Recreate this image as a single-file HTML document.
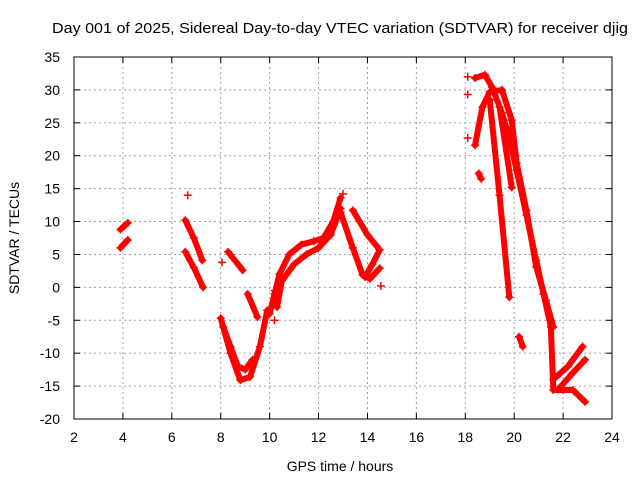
<!DOCTYPE html>
<html><head><meta charset="utf-8">
<style>
html,body{margin:0;padding:0;background:#fff;}
svg{display:block;font-family:"Liberation Sans",sans-serif;}
</style></head>
<body>
<svg id="chart" width="640" height="480" viewBox="0 0 640 480">
<text x="52" y="33" font-size="15" textLength="576" lengthAdjust="spacingAndGlyphs">Day 001 of 2025, Sidereal Day-to-day VTEC variation (SDTVAR) for receiver djig</text>
<g id="grid"></g>
<g id="ticks"></g>
<g id="tracks"></g>
<rect x="74" y="57" width="538" height="362" fill="none" stroke="#000" stroke-width="1"/>
<text x="340" y="471" font-size="14" text-anchor="middle">GPS time / hours</text>
<text x="19" y="238" font-size="14" text-anchor="middle" transform="rotate(-90 19 238)">SDTVAR / TECUs</text>
</svg>
<script>
const xTicks=[2,4,6,8,10,12,14,16,18,20,22,24];
const yTicks=[35,30,25,20,15,10,5,0,-5,-10,-15,-20];
const trackTimes=[
 [3.9,4.2],[3.9,4.2],
 [6.55,6.9,7.25],[6.55,6.9,7.28],
 [8.3,8.9],[9.1,9.5],
 [8.0,8.4,8.8,9.2,9.6,9.9],[8.1,8.4,8.7,9.0,9.3],
 [10.0,10.4,10.8,11.3,11.8,12.2,12.6,12.9],[10.3,10.5,11.0,11.5,12.0,12.5,12.9],
 [12.9,13.4,13.8,14.1,14.5],[13.4,14.0,14.5,14.2,13.9],
 [18.4,18.8,19.1,19.5,19.8,20.1,20.5,20.9,21.2,21.5,21.6,22.0,22.4,22.9],
 [18.4,18.7,19.0,19.5,19.9,20.1,20.5,20.9,21.3,21.6],
 [19.0,19.4,19.8],[19.4,19.9],
 [21.6,22.2,22.8],[21.8,22.4,22.9],
 [18.55,18.65],[20.2,20.35]
];
const trackValues=[
 [8.8,9.8],[6.0,7.2],
 [10.2,7.5,4.1],[5.4,3.0,0.0],
 [5.4,2.6],[-1,-4.5],
 [-4.7,-10,-14.1,-13.6,-9,-3.5],[-6,-9,-12,-12.5,-11],
 [-4,2,5,6.5,7,7.5,10,13.6],[-3,1,3.5,5,6,8,12],
 [11.4,6,1.9,1.3,2.9],[11.7,8,5.7,3.5,1.6],
 [31.8,32.3,30.4,26.5,22.8,17.8,11,4.1,-1,-6.0,-15.6,-15.6,-15.6,-17.4],
 [21.6,27.4,29.7,30,25.4,18.9,11.7,3.1,-2,-6],
 [28.5,14,-1.5],[27.4,15.2],
 [-14,-12,-9],[-15.5,-13,-11],
 [17.3,16.5],[-7.5,-9]
];
const singleTimes=[18.1,18.1,18.1,6.65,8.05,13.0,14.55,10.2,10.2,10.2];
const singleValues=[32,29.3,22.7,14,3.8,14.2,0.2,-0.5,-1,-5];
const NS="http://www.w3.org/2000/svg";
const X0=74,X1=612,Y0=419,Y1=57;
const xs=t=>X0+(t-2)/(24-2)*(X1-X0);
const ys=v=>Y0-(v+20)/(35+20)*(Y0-Y1);
const grid=document.getElementById('grid'),ticks=document.getElementById('ticks'),tr=document.getElementById('tracks');
function mk(tag,attrs,parent){const e=document.createElementNS(NS,tag);for(const k in attrs)e.setAttribute(k,attrs[k]);parent.appendChild(e);return e;}
xTicks.forEach(t=>{const x=xs(t);
 if(t>2&&t<24){const g=mk('line',{x1:x,x2:x,y1:Y1,y2:Y0,stroke:'#a0a0a0','stroke-dasharray':'2,3'},grid);
 
 }
 mk('line',{x1:x,x2:x,y1:Y0,y2:Y0-6,stroke:'#000'},ticks);
 mk('line',{x1:x,x2:x,y1:Y1,y2:Y1+6,stroke:'#000'},ticks);
 const l=mk('text',{x:x,y:442,'font-size':14,'text-anchor':'middle'},ticks);l.textContent=t;
 
 
});
yTicks.forEach(v=>{const y=ys(v);
 if(v>-20&&v<35){const g=mk('line',{x1:X0,x2:X1,y1:y,y2:y,stroke:'#a0a0a0','stroke-dasharray':'2,3'},grid);
 
 }
 mk('line',{x1:X0,x2:X0+6,y1:y,y2:y,stroke:'#000'},ticks);
 mk('line',{x1:X1,x2:X1-6,y1:y,y2:y,stroke:'#000'},ticks);
 const l=mk('text',{x:60,y:y+5,'font-size':14,'text-anchor':'end'},ticks);l.textContent=v;
 
 
});
function plus(x,y){const p=mk('path',{d:`M${x-4},${y}H${x+4}M${x},${y-4}V${y+4}`,stroke:'#f00','stroke-width':1.5},tr);
 
 }
trackTimes.forEach((ts,i)=>{const vs=trackValues[i];
 const pts=ts.map((t,j)=>xs(t)+','+ys(vs[j])).join(' ');
 const pl=mk('polyline',{points:pts,fill:'none',stroke:'#f00','stroke-width':6,'stroke-linejoin':'round','stroke-linecap':'round'},tr);
 
 
 ts.forEach((t,j)=>plus(xs(t),ys(vs[j])));
});
singleTimes.forEach((t,i)=>plus(xs(t),ys(singleValues[i])));
</script>
</body></html>
